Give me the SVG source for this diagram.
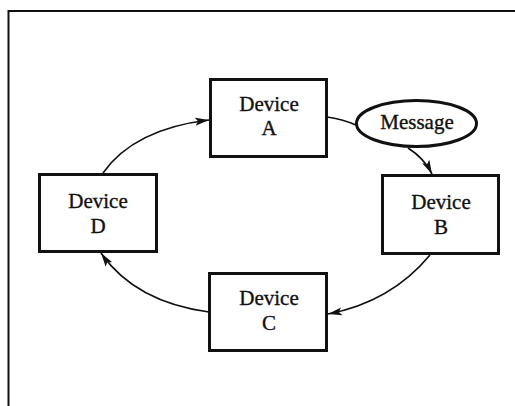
<svg xmlns="http://www.w3.org/2000/svg" width="515" height="406" viewBox="0 0 515 406">
<defs>
<style>
.box{fill:#fff;stroke:#111;stroke-width:3}
.lbl{font-family:"Liberation Serif","Times New Roman",serif;font-size:21px;fill:#111;stroke:#111;stroke-width:0.35;text-anchor:middle}
.conn{fill:none;stroke:#111;stroke-width:1.7}
.frame{fill:none;stroke:#111;stroke-width:2}
</style>
<marker id="arr" markerUnits="userSpaceOnUse" markerWidth="16" markerHeight="10" refX="14" refY="5" orient="auto">
<path d="M0,1 L14,5 L0,9 L3,5 z" fill="#111"/>
</marker>
</defs>
<rect width="515" height="406" fill="#fff"/>
<path class="frame" d="M8.5,406 V11 H515"/>
<g id="connectors">
<path class="conn" d="M103,173 Q134,129 209,120" marker-end="url(#arr)"/>
<path class="conn" d="M327,117 Q342,119 356,125"/>
<path class="conn" d="M408,148 Q424,158 432,174" marker-end="url(#arr)"/>
<path class="conn" d="M430,255 Q391,302 328,314" marker-end="url(#arr)"/>
<path class="conn" d="M209,312 Q135,302 101,253" marker-end="url(#arr)"/>
</g>
<g id="deviceA">
<rect class="box" x="210.5" y="79.5" width="116" height="77"/>
<text class="lbl" x="269" y="111">Device</text>
<text class="lbl" x="269" y="135">A</text>
</g>
<g id="deviceB">
<rect class="box" x="382.5" y="175.5" width="116" height="78"/>
<text class="lbl" x="441" y="209">Device</text>
<text class="lbl" x="441" y="234">B</text>
</g>
<g id="deviceC">
<rect class="box" x="209.5" y="273.5" width="117" height="77"/>
<text class="lbl" x="269" y="305">Device</text>
<text class="lbl" x="269" y="330">C</text>
</g>
<g id="deviceD">
<rect class="box" x="39.5" y="174.5" width="117" height="77"/>
<text class="lbl" x="98" y="208">Device</text>
<text class="lbl" x="98" y="233">D</text>
</g>
<g id="message">
<ellipse cx="416.5" cy="123.5" rx="60" ry="23" fill="#fff" stroke="#111" stroke-width="3"/>
<text class="lbl" x="417" y="129">Message</text>
</g>
</svg>
